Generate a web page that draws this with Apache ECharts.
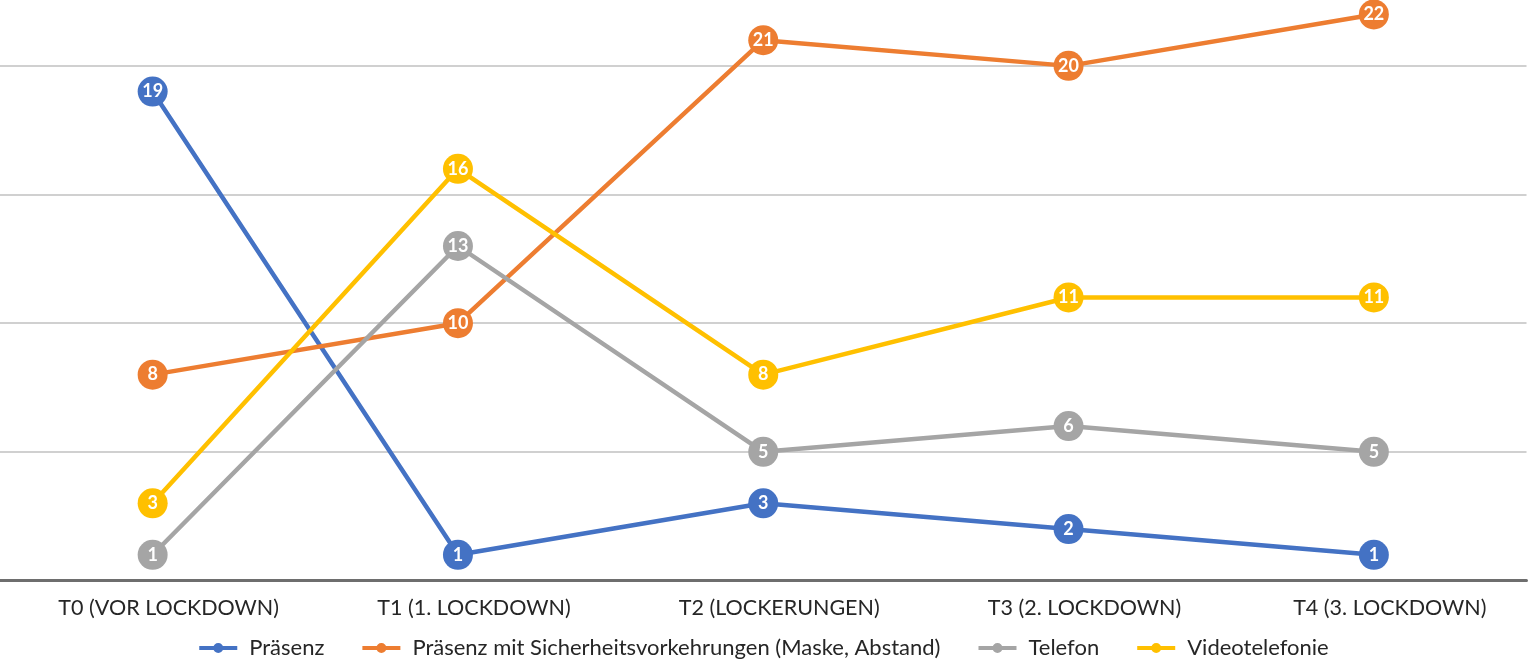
<!DOCTYPE html>
<html>
<head>
<meta charset="utf-8">
<script src="https://cdn.jsdelivr.net/npm/echarts@6/dist/echarts.min.js"></script>
<style>html,body{margin:0;padding:0;background:#fff}#c{width:1528px;height:664px}</style>
</head>
<body>
<div id="c"></div>
<script>
const categories = ['T0 (VOR LOCKDOWN)', 'T1 (1. LOCKDOWN)', 'T2 (LOCKERUNGEN)', 'T3 (2. LOCKDOWN)', 'T4 (3. LOCKDOWN)'];
const seriesNames = ['Präsenz', 'Präsenz mit Sicherheitsvorkehrungen (Maske, Abstand)', 'Telefon', 'Videotelefonie'];
const praesenz = [19, 1, 3, 2, 1];
const praesenzSicher = [8, 10, 21, 20, 22];
const telefon = [1, 13, 5, 6, 5];
const video = [3, 16, 8, 11, 11];
const colors = ['#4472C4', '#ED7D31', '#A5A5A5', '#FFC000'];

const FONT = 'Lato';
const dataSets = [praesenz, praesenzSicher, telefon, video];
const legendIcon = 'path://M0,3.5h38v4H0z M14,5.5a5,5 0 1,1 10,0a5,5 0 1,1 -10,0z';
const chart = echarts.init(document.getElementById('c'), null, {renderer: 'canvas'});
chart.setOption({
  animation: false,
  textStyle: {fontFamily: FONT},
  grid: {left: 0, right: 1.5, top: 0, bottom: 83.5, containLabel: false},
  xAxis: {
    type: 'category', data: categories, boundaryGap: true,
    axisLine: {lineStyle: {color: '#6e6e6e', width: 3}},
    axisTick: {show: false},
    axisLabel: {color: '#262626', fontSize: 21.5, fontFamily: FONT, margin: 17, padding: [0, 0, 0, 32]}
  },
  yAxis: {
    type: 'value', min: 0, max: 22.56, interval: 5,
    axisLine: {show: false}, axisTick: {show: false}, axisLabel: {show: false},
    splitLine: {lineStyle: {color: '#d0d0d0', width: 2}, showMaxLine: false}
  },
  legend: {
    bottom: 0, left: 'center', itemWidth: 38, itemHeight: 11, itemGap: 38,
    textStyle: {color: '#262626', fontSize: 22, fontFamily: FONT, padding: [0, 0, 0, 7]},
    data: seriesNames.map((n, i) => ({name: n, icon: legendIcon, itemStyle: {color: colors[i]}}))
  },
  series: dataSets.map((d, i) => ({
    name: seriesNames[i], type: 'line', data: d,
    symbol: 'circle', symbolSize: 30,
    lineStyle: {color: colors[i], width: 4.5},
    itemStyle: {color: colors[i]},
    label: {show: true, position: 'inside', color: '#fff', fontWeight: 'bold', fontSize: 18, fontFamily: FONT},
    z: 2 + i
  }))
});
</script>
</body>
</html>
